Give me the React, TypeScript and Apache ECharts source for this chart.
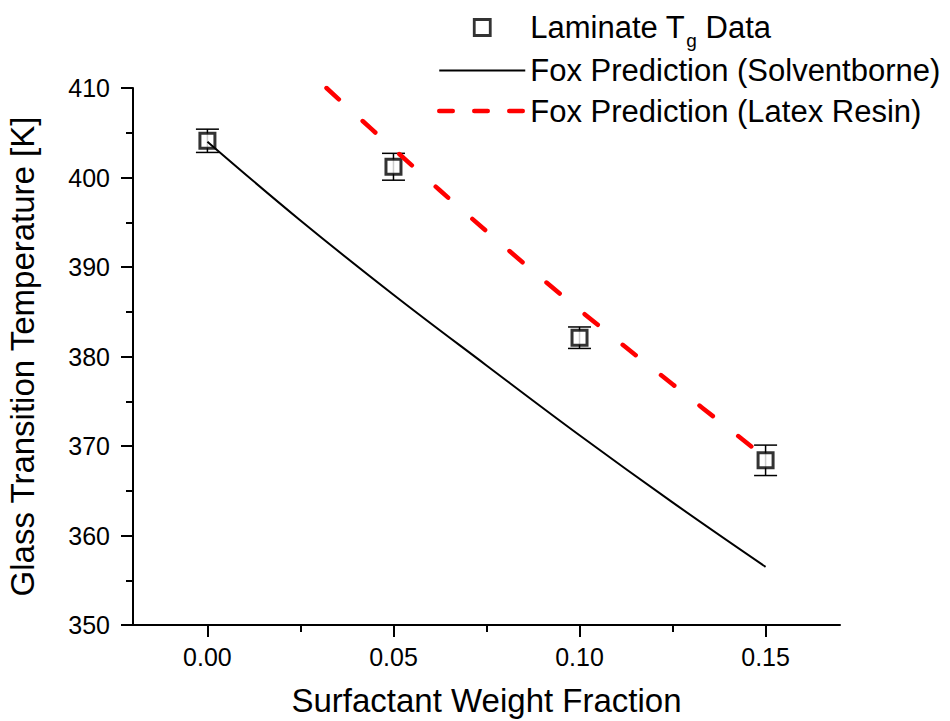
import React, { useEffect, useRef } from 'react';
import * as echarts from 'echarts';

const FONT = "'Liberation Sans', Arial, Helvetica, sans-serif";

// Laminate Tg data
const dataX = [0, 0.05, 0.1, 0.15];
const dataTg = [404.1, 401.2, 382.1, 368.4];
const dataErr = [1.3, 1.5, 1.2, 1.7];

// Fox prediction, solventborne
const solventX = [0, 0.025, 0.05, 0.075, 0.1, 0.125, 0.15];
const solventTg = [404.0, 395.2, 386.9, 379.0, 371.2, 363.7, 356.5];

// Fox prediction, latex resin
const latexX = [0.032, 0.05, 0.075, 0.1, 0.125, 0.15];
const latexTg = [410.0, 403.2, 394.0, 385.2, 376.9, 368.7];

const xMajorTicks = [0, 0.05, 0.1, 0.15];
const xMinorTicks = [0.025, 0.075, 0.125];

const NAME_DATA = 'Laminate Tg Data';
const NAME_SOLV = 'Fox Prediction (Solventborne)';
const NAME_LATEX = 'Fox Prediction (Latex Resin)';

export default function App() {
  const ref = useRef<HTMLDivElement>(null);

  useEffect(() => {
    if (!ref.current) return;
    const chart = echarts.init(ref.current, undefined, { renderer: 'svg' });
    const black = '#000';
    const option: any = {
      animation: false,
      backgroundColor: '#fff',
      textStyle: { fontFamily: FONT },
      grid: { left: 133, right: 110, top: 88, bottom: 96, containLabel: false, outerBoundsMode: 'none' },
      legend: {
        orient: 'vertical',
        left: 432,
        top: 0,
        itemWidth: 86,
        itemHeight: 16,
        itemGap: 0.5,
        selectedMode: false,
        symbolKeepAspect: true,
        textStyle: {
          fontFamily: FONT,
          fontSize: 31,
          color: black,
          lineHeight: 40,
          rich: {
            a: { fontFamily: FONT, fontSize: 31, lineHeight: 40, color: black },
            s: { fontFamily: FONT, fontSize: 19, lineHeight: 14, padding: [26, 0, 0, 1], color: black },
          },
        },
        formatter: (name: string) => (name === NAME_DATA ? '{a|Laminate T}{s|g}{a| Data}' : name),
        data: [
          {
            name: NAME_DATA,
            icon: 'path://M0 0H10V10H0Z',
            itemStyle: { color: '#fff', borderColor: black, borderWidth: 2.8 },
          },
          {
            name: NAME_SOLV,
            itemStyle: { color: 'transparent', borderWidth: 0, opacity: 0 },
            lineStyle: { color: black, width: 2, type: 'solid' },
          },
          {
            name: NAME_LATEX,
            itemStyle: { color: 'transparent', borderWidth: 0, opacity: 0 },
            lineStyle: { type: [13.5, 21.5], width: 4.5, color: '#ff0000', cap: 'round' },
          },
        ],
      },
      xAxis: [
        {
          type: 'value',
          min: -0.02,
          max: 0.17,
          position: 'bottom',
          name: 'Surfactant Weight Fraction',
          nameLocation: 'middle',
          nameGap: 59,
          nameTextStyle: { fontFamily: FONT, fontSize: 33, color: black },
          axisLine: { show: true, onZero: false, lineStyle: { color: black, width: 2 } },
          axisTick: { show: true, customValues: xMajorTicks, length: 12, lineStyle: { color: black, width: 2 } },
          axisLabel: {
            customValues: xMajorTicks,
            formatter: (v: number) => v.toFixed(2),
            fontFamily: FONT,
            fontSize: 25,
            color: black,
            margin: 19,
          },
          splitLine: { show: false },
        },
        {
          type: 'value',
          min: -0.02,
          max: 0.17,
          position: 'bottom',
          axisLine: { show: false, onZero: false },
          axisTick: { show: true, customValues: xMinorTicks, length: 7, lineStyle: { color: black, width: 2 } },
          axisLabel: { show: false },
          splitLine: { show: false },
        },
      ],
      yAxis: {
        type: 'value',
        min: 350,
        max: 410,
        interval: 10,
        name: 'Glass Transition Temperature [K]',
        nameLocation: 'middle',
        nameGap: 94,
        nameTextStyle: { fontFamily: FONT, fontSize: 33, color: black },
        axisLine: { show: true, onZero: false, lineStyle: { color: black, width: 2 } },
        axisTick: { show: true, length: 12, lineStyle: { color: black, width: 2 } },
        minorTick: { show: true, splitNumber: 2, length: 7, lineStyle: { color: black, width: 2 } },
        axisLabel: { fontFamily: FONT, fontSize: 25, color: black, margin: 23 },
        splitLine: { show: false },
        minorSplitLine: { show: false },
      },
      series: [
        {
          type: 'custom',
          name: 'error',
          silent: true,
          z: 1,
          data: dataX.map((x, i) => [x, dataTg[i] - dataErr[i], dataTg[i] + dataErr[i]]),
          encode: { x: 0, y: [1, 2] },
          renderItem: (_params: any, api: any) => {
            const lo = api.coord([api.value(0), api.value(1)]);
            const hi = api.coord([api.value(0), api.value(2)]);
            const hw = 11.5;
            const style = { stroke: black, lineWidth: 1.5, fill: 'none' };
            return {
              type: 'group',
              children: [
                { type: 'line', shape: { x1: hi[0], y1: hi[1], x2: lo[0], y2: lo[1] }, style },
                { type: 'line', shape: { x1: hi[0] - hw, y1: hi[1], x2: hi[0] + hw, y2: hi[1] }, style },
                { type: 'line', shape: { x1: lo[0] - hw, y1: lo[1], x2: lo[0] + hw, y2: lo[1] }, style },
              ],
            };
          },
        },
        {
          type: 'scatter',
          name: NAME_DATA,
          z: 3,
          data: dataX.map((x, i) => [x, dataTg[i]]),
          symbol: 'rect',
          symbolSize: 15,
          itemStyle: { color: '#fff', borderColor: black, borderWidth: 3 },
          emphasis: { disabled: true },
        },
        {
          type: 'line',
          name: NAME_SOLV,
          z: 4,
          data: solventX.map((x, i) => [x, solventTg[i]]),
          symbol: 'none',
          showSymbol: false,
          smooth: 0.4,
          lineStyle: { color: black, width: 2 },
          itemStyle: { color: black },
          emphasis: { disabled: true },
        },
        {
          type: 'line',
          name: NAME_LATEX,
          z: 5,
          data: latexX.map((x, i) => [x, latexTg[i]]),
          symbol: 'none',
          showSymbol: false,
          smooth: 0.4,
          lineStyle: { color: '#ff0000', width: 4.5, type: [17, 32], cap: 'round' },
          itemStyle: { color: '#ff0000' },
          emphasis: { disabled: true },
        },
      ],
    };
    chart.setOption(option);
    return () => {
      chart.dispose();
    };
  }, []);

  return (
    <div
      ref={ref}
      style={{ position: 'fixed', left: 0, top: 0, width: 950, height: 721, background: '#fff' }}
    />
  );
}
